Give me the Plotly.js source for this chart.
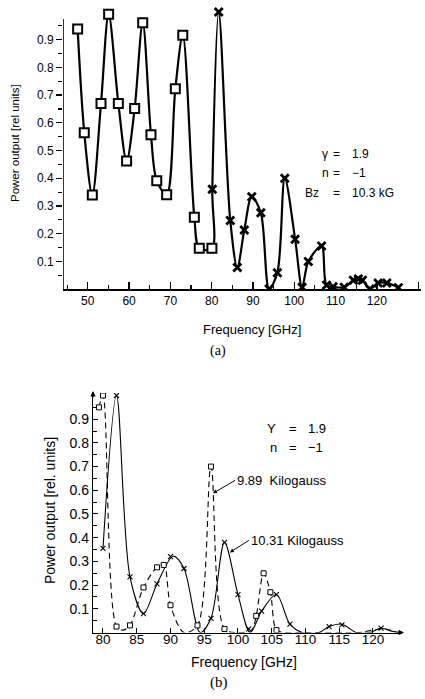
<!DOCTYPE html>
<html>
<head>
<meta charset="utf-8">
<script src="https://cdn.plot.ly/plotly-3.0.1.min.js"></script>
<style>
  html, body { margin: 0; padding: 0; background: #fff; }
  #plot { width: 425px; height: 699px; }
</style>
</head>
<body>
<div id="plot"></div>
<script>
// ---------- (a) gamma = 1.9, n = -1, Bz = 10.3 kG ----------
// square markers (lower band)
const aSquareFreq  = [47.55, 49.15, 51.1, 53.2, 55.05, 57.4, 59.4, 61.35, 63.3, 65.3, 66.7, 69.1, 71.2, 73.0, 75.8, 77.0, 80.05];
const aSquarePower = [0.939, 0.564, 0.339, 0.670, 0.992, 0.670, 0.462, 0.652, 0.961, 0.557, 0.391, 0.340, 0.723, 0.916, 0.259, 0.147, 0.147];
// cross markers (upper band)
const aCrossFreq  = [80.15, 81.7, 84.5, 86.2, 87.9, 89.7, 91.9, 93.9, 95.9, 97.7, 100.2, 101.9, 103.4, 106.6, 107.8, 109.4, 112.1, 114.3, 115.5, 116.5, 118.3, 120.3, 122.4, 125.2];
const aCrossPower = [0.360, 1.000, 0.247, 0.078, 0.213, 0.333, 0.275, 0.0, 0.059, 0.400, 0.180, 0.006, 0.099, 0.155, 0.014, 0.008, 0.006, 0.032, 0.036, 0.032, 0.0, 0.022, 0.022, 0.005];

// ---------- (b) two field strengths ----------
// 10.31 kilogauss: marked points and the drawn curve
const b1031MarkFreq  = [80, 82, 84, 86, 88, 90, 92, 96, 98, 100, 101.6, 103.5, 105.7, 107.7, 113.5, 115.4, 121.2];
const b1031MarkPower = [0.355, 1.0, 0.235, 0.08, 0.205, 0.32, 0.27, 0.06, 0.38, 0.16, 0.015, 0.09, 0.16, 0.035, 0.025, 0.032, 0.018];
const b1031LineFreq  = [80, 82, 84, 86, 88, 90.4, 92, 94.4, 96, 98, 100, 101.8, 103.5, 105.7, 107.7, 109.5, 112, 113.5, 115.4, 117.5, 119.5, 121.2, 123, 124.3];
const b1031LinePower = [0.355, 1.0, 0.235, 0.08, 0.205, 0.322, 0.27, 0.0, 0.06, 0.38, 0.16, 0.0, 0.09, 0.16, 0.035, 0.0, 0.0, 0.025, 0.035, 0.0, 0.0, 0.018, 0.004, 0.0];
// 9.89 kilogauss: marked points and the drawn curve
const b989MarkFreq  = [79.4, 80, 82, 84, 86, 88, 89, 90, 94, 96, 98, 102.7, 103.8, 104.8, 105.7];
const b989MarkPower = [0.95, 1.0, 0.025, 0.03, 0.19, 0.275, 0.285, 0.115, 0.03, 0.70, 0.015, 0.07, 0.25, 0.17, 0.01];
const b989LineFreq  = [79.4, 80, 82, 83, 84, 86, 88, 89, 90, 92, 94, 96, 98, 100, 102, 102.7, 103.8, 104.8, 105.7, 107, 110, 118, 120, 121.8, 123.5];
const b989LinePower = [0.95, 1.0, 0.025, 0.01, 0.03, 0.19, 0.275, 0.285, 0.115, 0.0, 0.03, 0.70, 0.015, 0.0, 0.01, 0.07, 0.25, 0.17, 0.01, 0.0, 0.0, 0.0, 0.01, 0.015, 0.0];

const yTickVals  = [0.1, 0.2, 0.3, 0.4, 0.5, 0.6, 0.7, 0.8, 0.9];
const yMinorVals = [0.05, 0.15, 0.25, 0.35, 0.45, 0.55, 0.65, 0.75, 0.85, 0.95];

// ---------- page geometry (pixels on a 425 x 699 page) ----------
const W = 425, H = 699;
const px = v => v / W;            // x pixel -> paper
const py = v => 1 - v / H;        // y pixel -> paper
const SANS = 'Liberation Sans, Arial, Helvetica, sans-serif';
const SERIF = 'Liberation Serif, Times New Roman, serif';

// merged curve for panel (a): every marker lies on the one line
const aAll = aSquareFreq.map((f, i) => [f, aSquarePower[i]])
  .concat(aCrossFreq.map((f, i) => [f, aCrossPower[i]]))
  .sort((p, q) => p[0] - q[0]);

const traces = [
  { x: aAll.map(p => p[0]), y: aAll.map(p => p[1]), xaxis: 'x', yaxis: 'y',
    mode: 'lines', line: { color: '#000', width: 2.2, shape: 'spline', smoothing: 0.9 },
    hoverinfo: 'skip' },
  { x: aSquareFreq, y: aSquarePower, xaxis: 'x', yaxis: 'y', mode: 'markers',
    marker: { symbol: 'square', size: 9, color: '#fff', line: { color: '#000', width: 2 } } },
  { x: aCrossFreq, y: aCrossPower, xaxis: 'x', yaxis: 'y', mode: 'markers',
    marker: { symbol: 'x-thin', size: 8, color: '#000', line: { color: '#000', width: 2.8 } } },

  { x: b989LineFreq, y: b989LinePower, xaxis: 'x2', yaxis: 'y2', mode: 'lines',
    line: { color: '#000', width: 1.1, dash: '6px,4px', shape: 'spline', smoothing: 0.9 } },
  { x: b1031LineFreq, y: b1031LinePower, xaxis: 'x2', yaxis: 'y2', mode: 'lines',
    line: { color: '#000', width: 1.1, shape: 'spline', smoothing: 0.9 } },
  { x: b989MarkFreq, y: b989MarkPower, xaxis: 'x2', yaxis: 'y2', mode: 'markers',
    marker: { symbol: 'square', size: 5, color: '#fff', line: { color: '#000', width: 1 } } },
  { x: b1031MarkFreq, y: b1031MarkPower, xaxis: 'x2', yaxis: 'y2', mode: 'markers',
    marker: { symbol: 'x-thin', size: 5, color: '#000', line: { color: '#000', width: 1.1 } } }
];

const aXRange = [44.0, 130.68];
const bXRange = [78.52, 124.3];

// plain text placed by page pixel, centred unless told otherwise
function label(x, y, text, size, extra) {
  return Object.assign({ xref: 'paper', yref: 'paper', x: px(x), y: py(y), text: text,
    xanchor: 'center', yanchor: 'middle', showarrow: false, font: { size: size, family: SANS } }, extra || {});
}

const layout = {
  width: W, height: H,
  margin: { l: 0, r: 0, t: 0, b: 0 },
  paper_bgcolor: '#fff', plot_bgcolor: 'rgba(0,0,0,0)',
  showlegend: false,
  font: { family: SANS, color: '#000' },
  xaxis: {
    domain: [px(63), px(421)], range: aXRange, anchor: 'y',
    showline: true, linecolor: '#000', linewidth: 1.6,
    showgrid: false, zeroline: false,
    ticks: 'inside', ticklen: 7, tickwidth: 1.3, tickcolor: '#000',
    tickmode: 'linear', tick0: 0, dtick: 10,
    minor: { ticks: 'inside', ticklen: 4, tickwidth: 1.1, tickcolor: '#000', tickmode: 'linear', tick0: 0, dtick: 5 },
    tickfont: { size: 12, family: SANS }
  },
  yaxis: {
    domain: [py(289), py(6)], range: [0, 1.0217], anchor: 'x',
    showline: false, showgrid: false, zeroline: false,
    ticks: 'outside', ticklen: 6, tickwidth: 1.3, tickcolor: '#000',
    tickmode: 'array', tickvals: yTickVals,
    minor: { ticks: 'outside', ticklen: 4, tickwidth: 1.1, tickcolor: '#000', tickvals: yMinorVals },
    tickfont: { size: 12, family: SANS }
  },
  xaxis2: {
    domain: [px(93), px(402)], range: bXRange, anchor: 'y2',
    showline: true, linecolor: '#000', linewidth: 1.2,
    showgrid: false, zeroline: false,
    ticks: 'inside', ticklen: 5, tickwidth: 1, tickcolor: '#000',
    tickmode: 'linear', tick0: 80, dtick: 5,
    ticklabelstandoff: -6,
    tickfont: { size: 13.5, family: SANS }
  },
  yaxis2: {
    domain: [py(632.5), py(393)], range: [0, 1.0105], anchor: 'x2',
    showline: true, linecolor: '#000', linewidth: 1.2,
    showgrid: false, zeroline: false,
    ticks: 'inside', ticklen: 5, tickwidth: 1, tickcolor: '#000',
    tickmode: 'array', tickvals: yTickVals,
    minor: { ticks: 'inside', ticklen: 4, tickwidth: 1, tickcolor: '#000', tickvals: yMinorVals },
    tickfont: { size: 14, family: SANS }
  },
  shapes: [
    // vertical axis of panel (a) stops just below the top peak
    { type: 'line', xref: 'x', yref: 'y', x0: aXRange[0], x1: aXRange[0], y0: 0, y1: 0.975,
      line: { color: '#000', width: 1.6 } }
  ],
  annotations: [
    // panel (a) texts
    label(15, 143, 'Power output [rel units]', 11.5, { textangle: -90 }),
    label(252, 329, 'Frequency [GHz]', 13),
    label(218, 351, '(a)', 14, { font: { size: 14, family: SERIF } }),

    label(330, 154, 'γ', 12, { xanchor: 'right' }),
    label(336.5, 154, '=', 12),
    label(350, 154, '1.9', 12, { xanchor: 'left' }),
    label(331, 173, 'n', 12, { xanchor: 'right' }),
    label(336.5, 173, '=', 12),
    label(350, 173, '\u22121', 12, { xanchor: 'left' }),
    label(321, 193, 'Bz', 12, { xanchor: 'right' }),
    label(336.5, 193, '=', 12),
    label(350, 193, '10.3 kG', 12, { xanchor: 'left' }),

    // panel (b) texts
    label(50, 511, 'Power output [rel. units]', 14, { textangle: -90 }),
    label(244, 662, 'Frequency [GHz]', 14),
    label(219, 682, '(b)', 15, { font: { size: 15, family: SERIF } }),

    label(278, 428, 'Υ', 13, { xanchor: 'right' }),
    label(293, 428, '=', 13),
    label(306, 428, '1.9', 13, { xanchor: 'left' }),
    label(279, 447, 'n', 13, { xanchor: 'right' }),
    label(293, 447, '=', 13),
    label(306, 447, '\u22121', 13, { xanchor: 'left' }),

    // curve labels with pointers
    { xref: 'x2', yref: 'y2', x: 96.3, y: 0.587, ax: 22, ay: -13, axref: 'pixel', ayref: 'pixel',
      xanchor: 'left', yanchor: 'middle', text: '9.89  Kilogauss', showarrow: true,
      arrowhead: 2, arrowsize: 0.8, arrowwidth: 1, arrowcolor: '#000', standoff: 0, font: { size: 13 } },
    { xref: 'x2', yref: 'y2', x: 98.8, y: 0.338, ax: 19, ay: -12, axref: 'pixel', ayref: 'pixel',
      xanchor: 'left', yanchor: 'middle', text: '10.31 Kilogauss', showarrow: true,
      arrowhead: 2, arrowsize: 0.8, arrowwidth: 1, arrowcolor: '#000', standoff: 0, font: { size: 13 } },

    // arrow ends on the axes of panel (b)
    { xref: 'paper', yref: 'paper', x: px(93), y: py(391), ax: 0, ay: 8, text: '', showarrow: true,
      arrowhead: 2, arrowsize: 0.9, arrowwidth: 1.2, arrowcolor: '#000' },
    { xref: 'paper', yref: 'paper', x: px(404), y: py(632.5), ax: -8, ay: 0, text: '', showarrow: true,
      arrowhead: 2, arrowsize: 0.9, arrowwidth: 1.2, arrowcolor: '#000' }
  ]
};

Plotly.newPlot('plot', traces, layout, { staticPlot: true, displayModeBar: false });
</script>
</body>
</html>
